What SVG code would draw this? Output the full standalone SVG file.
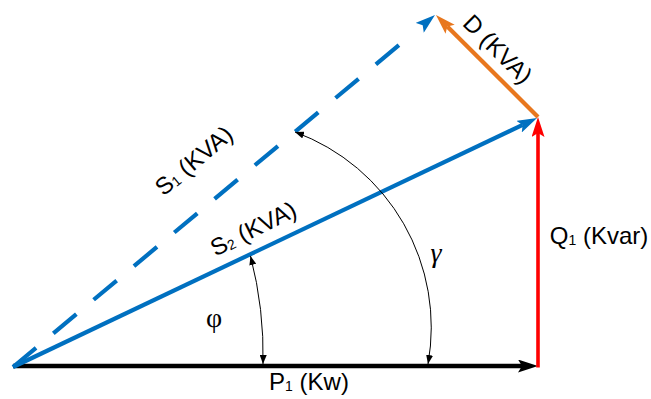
<svg xmlns="http://www.w3.org/2000/svg" width="651" height="399" viewBox="0 0 651 399">
<style>
.lbl{font-family:"Liberation Sans",Arial,sans-serif;font-size:24px;fill:#000}
.sub{font-size:14px}
.greek{font-family:"Liberation Serif","Times New Roman",serif;font-size:28px;fill:#000}
.vec{fill:none;stroke-linecap:butt}
.blue{stroke:#0070C0;stroke-width:4.2}
.thin{fill:none;stroke:#000;stroke-width:1}
</style>
<defs>
<marker id="hBlack" markerUnits="userSpaceOnUse" markerWidth="20" markerHeight="13" refX="4" refY="6.5" orient="auto"><path d="M0,0 L20,6.5 L0,13 L4,6.5 z" fill="#000"/></marker>
<marker id="hBlue" markerUnits="userSpaceOnUse" markerWidth="20" markerHeight="13" refX="4" refY="6.5" orient="auto"><path d="M0,0 L20,6.5 L0,13 L4,6.5 z" fill="#0070C0"/></marker>
<marker id="hRed" markerUnits="userSpaceOnUse" markerWidth="20" markerHeight="13" refX="4" refY="6.5" orient="auto"><path d="M0,0 L20,6.5 L0,13 L4,6.5 z" fill="#FF0000"/></marker>
<marker id="hOrange" markerUnits="userSpaceOnUse" markerWidth="20" markerHeight="13" refX="4" refY="6.5" orient="auto"><path d="M0,0 L20,6.5 L0,13 L4,6.5 z" fill="#E8771E"/></marker>
<marker id="hThin" markerUnits="userSpaceOnUse" markerWidth="9" markerHeight="7" refX="9" refY="3.5" orient="auto-start-reverse"><path d="M0,0 L9,3.5 L0,7 z" fill="#000"/></marker>
</defs>
<rect width="651" height="399" fill="#fff"/>
<g id="connectors">
<path id="P1" class="vec" d="M13,366 L522,366" stroke="#000" stroke-width="4.5" marker-end="url(#hBlack)"/>
<path id="Q1" class="vec" d="M538,367.5 L538,133" stroke="#FF0000" stroke-width="3.6" marker-end="url(#hRed)"/>
<path id="S2" class="vec blue" d="M13,367 L522.6,124.9" stroke-linecap="round" marker-end="url(#hBlue)"/>
<path id="S1" class="vec blue" d="M13,367 L422.7,25.3" stroke-linecap="round" stroke-dasharray="30 22.5 30 22.5 30 22.5 30 22.5 30 22.5 30 22.5 30 22.5 30 22.5 30 22.5 30 120" marker-end="url(#hBlue)"/>
<path id="D" class="vec" d="M538,117 L447.3,26.4" stroke="#E8771E" stroke-width="4.2" marker-end="url(#hOrange)"/>
<path id="arcPhi" class="thin" d="M250.5,256 A390,390 0 0 1 263,364" marker-start="url(#hThin)" marker-end="url(#hThin)"/>
<path id="arcGamma" class="thin" d="M295,132 A208,208 0 0 1 428,364" marker-start="url(#hThin)" marker-end="url(#hThin)"/>
</g>
<g id="label-P1"><text class="lbl" text-anchor="middle" x="309" y="390">P<tspan class="sub" dy="1">1</tspan><tspan dy="-1"> (Kw)</tspan></text></g>
<g id="label-Q1"><text class="lbl" text-anchor="middle" x="599" y="244">Q<tspan class="sub" dy="1">1</tspan><tspan dy="-1"> (Kvar)</tspan></text></g>
<g id="label-S1"><text class="lbl" text-anchor="middle" transform="translate(199,167) rotate(-40)">S<tspan class="sub" dy="1">1</tspan><tspan dy="-1"> (KVA)</tspan></text></g>
<g id="label-S2"><text class="lbl" text-anchor="middle" transform="translate(257,236) rotate(-26.5)">S<tspan class="sub" dy="1">2</tspan><tspan dy="-1"> (KVA)</tspan></text></g>
<g id="label-D"><text class="lbl" text-anchor="middle" transform="translate(492,55) rotate(45)">D (KVA)</text></g>
<g id="label-phi"><text class="greek" text-anchor="middle" x="214" y="327" font-size="30">φ</text></g>
<g id="label-gamma"><text class="greek" text-anchor="middle" x="436" y="262" font-style="italic">γ</text></g>
</svg>
